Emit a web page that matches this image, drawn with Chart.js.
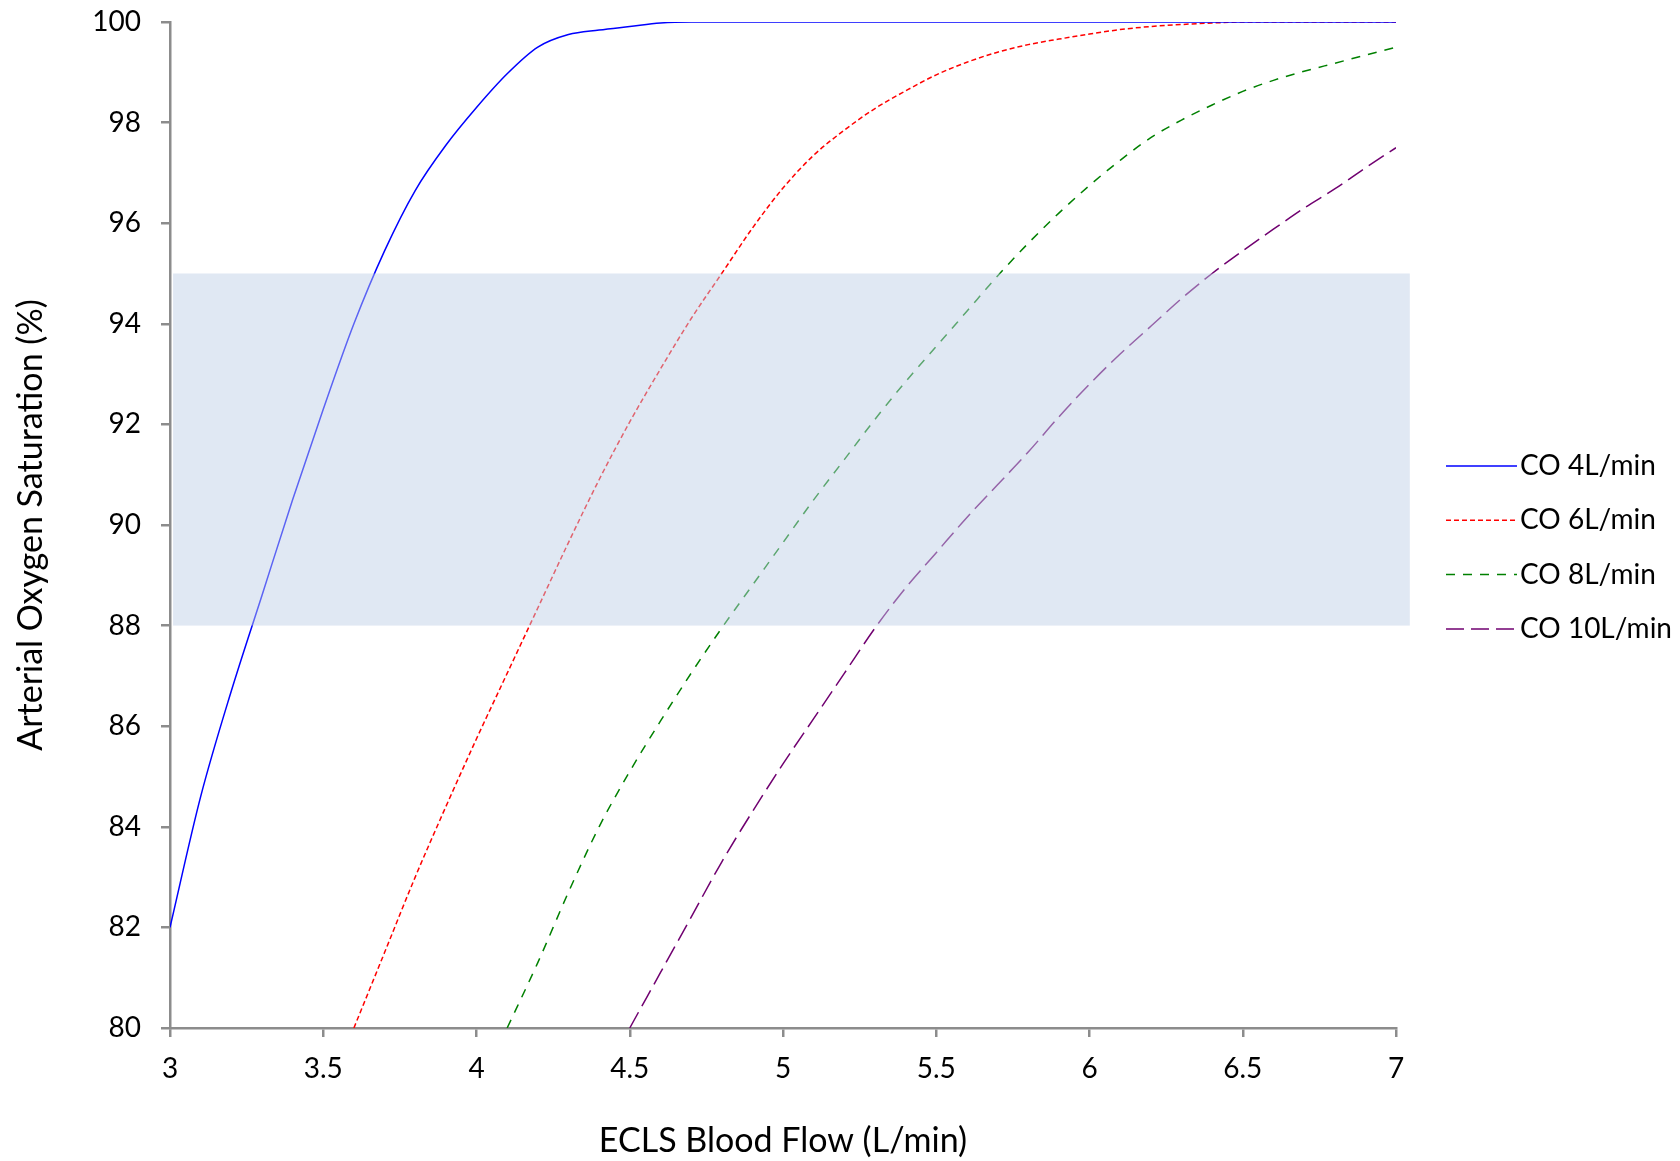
<!DOCTYPE html>
<html>
<head>
<meta charset="utf-8">
<script src="https://cdn.jsdelivr.net/npm/chart.js@4.4.0/dist/chart.umd.min.js"></script>
<style>
  html, body { margin: 0; padding: 0; background: #fff; }
</style>
</head>
<body>
<canvas id="satChart" width="1680" height="1161"></canvas>
<script>
// ECLS blood flow (L/min), sampled every 0.1
const flow = [
  3.0, 3.1, 3.2, 3.3, 3.4, 3.5, 3.6, 3.7, 3.8, 3.9,
  4.0, 4.1, 4.2, 4.3, 4.4, 4.5, 4.6, 4.7, 4.8, 4.9,
  5.0, 5.1, 5.2, 5.3, 5.4, 5.5, 5.6, 5.7, 5.8, 5.9,
  6.0, 6.1, 6.2, 6.3, 6.4, 6.5, 6.6, 6.7, 6.8, 6.9,
  7.0
];

// arterial saturation (%) for each cardiac output, null = below 80
const co4 = [
  82.0, 84.6, 86.7, 88.6, 90.5, 92.3, 94.0, 95.45, 96.65, 97.55,
  98.3, 98.97, 99.5, 99.75, 99.84, 99.91, 99.98, 100, 100, 100,
  100, 100, 100, 100, 100, 100, 100, 100, 100, 100,
  100, 100, 100, 100, 100, 100, 100, 100, 100, 100,
  100
];
const co6 = [
  null, null, null, null, null, null, 80.0, 81.5, 83.0, 84.4,
  85.75, 87.05, 88.35, 89.65, 90.9, 92.05, 93.1, 94.1, 95.0, 95.9,
  96.7, 97.35, 97.85, 98.28, 98.63, 98.95, 99.2, 99.4, 99.55, 99.66,
  99.76, 99.85, 99.91, 99.95, 99.98, 100, 100, 100, 100, 100,
  100
];
const co8 = [
  null, null, null, null, null, null, null, null, null, null,
  null, 80.0, 81.3, 82.7, 84.0, 85.1, 86.1, 87.05, 87.95, 88.8,
  89.65, 90.5, 91.3, 92.1, 92.85, 93.55, 94.25, 94.95, 95.6, 96.2,
  96.75, 97.25, 97.7, 98.05, 98.35, 98.62, 98.84, 99.02, 99.18, 99.34,
  99.5
];
const co10 = [
  null, null, null, null, null, null, null, null, null, null,
  null, null, null, null, null, 80.0, 81.1, 82.2, 83.3, 84.3,
  85.25, 86.15, 87.05, 87.95, 88.75, 89.45, 90.15, 90.8, 91.45, 92.15,
  92.8, 93.4, 93.95, 94.5, 95.0, 95.45, 95.88, 96.3, 96.68, 97.1,
  97.5
];

const seriesLabels = ["CO 4L/min", "CO 6L/min", "CO 8L/min", "CO 10L/min"];

// target saturation band
const bandFlow = [3.01, 7.045];
const bandSat = [88, 95];

const FONT = 'Lato, "Open Sans", sans-serif';
const AXIS_GREY = "#8c8c8c";

function toPoints(values) {
  return flow.map((f, i) => ({ x: f, y: values[i] }));
}

const targetBand = {
  id: "targetBand",
  afterDatasetsDraw(chart) {
    const { ctx, scales } = chart;
    const left = scales.x.getPixelForValue(bandFlow[0]);
    const right = scales.x.getPixelForValue(bandFlow[1]);
    const top = scales.y.getPixelForValue(bandSat[1]);
    const bottom = scales.y.getPixelForValue(bandSat[0]);
    ctx.save();
    ctx.fillStyle = "rgba(190, 206, 230, 0.48)";
    ctx.fillRect(left, top, right - left, bottom - top);
    ctx.restore();
  },
};

const lineLegend = {
  id: "lineLegend",
  afterDraw(chart) {
    const { ctx, chartArea } = chart;
    const x0 = chartArea.right + 50;
    let y = chartArea.top + 444;
    ctx.save();
    ctx.font = "28px " + FONT;
    ctx.textBaseline = "middle";
    chart.data.datasets.forEach((ds) => {
      ctx.strokeStyle = ds.borderColor;
      ctx.lineWidth = ds.borderWidth;
      ctx.setLineDash(ds.borderDash || []);
      ctx.beginPath();
      ctx.moveTo(x0, y);
      ctx.lineTo(x0 + 71, y);
      ctx.stroke();
      ctx.setLineDash([]);
      ctx.fillStyle = "#000";
      ctx.fillText(ds.label, x0 + 74, y);
      y += 54.3;
    });
    ctx.restore();
  },
};

const ctx = document.getElementById("satChart").getContext("2d");
new Chart(ctx, {
  type: "line",
  data: {
    datasets: [
      { label: seriesLabels[0], data: toPoints(co4), borderColor: "#0000ff", borderWidth: 1.5 },
      { label: seriesLabels[1], data: toPoints(co6), borderColor: "#ff0000", borderWidth: 1.5, borderDash: [5, 3] },
      { label: seriesLabels[2], data: toPoints(co8), borderColor: "#008000", borderWidth: 1.5, borderDash: [9, 8] },
      { label: seriesLabels[3], data: toPoints(co10), borderColor: "#700070", borderWidth: 1.5, borderDash: [18, 7] },
    ],
  },
  options: {
    responsive: false,
    animation: false,
    layout: { padding: { top: 22, right: 284, left: 0, bottom: 0 } },
    elements: {
      point: { radius: 0 },
      line: { cubicInterpolationMode: "monotone", fill: false },
    },
    plugins: {
      legend: { display: false },
      tooltip: { enabled: false },
    },
    scales: {
      x: {
        type: "linear",
        min: 3,
        max: 7,
        afterFit: (scale) => { scale.height = 133; },
        ticks: {
          stepSize: 0.5,
          color: "#000",
          padding: 15,
          font: { family: FONT, size: 28 },
          callback: (value) => String(value),
        },
        grid: { drawOnChartArea: false, tickLength: 9, color: AXIS_GREY, lineWidth: 2.5 },
        border: { display: true, color: AXIS_GREY, width: 2.5 },
        title: {
          display: true,
          text: "ECLS Blood Flow (L/min)",
          color: "#000",
          font: { family: FONT, size: 34 },
          padding: { top: 6, bottom: 0 },
        },
      },
      y: {
        min: 80,
        max: 100,
        afterFit: (scale) => {
          scale.width = 170;
          scale.paddingTop = 0;
          scale.paddingBottom = 0;
        },
        ticks: { stepSize: 2, color: "#000", padding: 20, font: { family: FONT, size: 28 } },
        grid: { drawOnChartArea: false, tickLength: 9, color: AXIS_GREY, lineWidth: 2.5 },
        border: { display: true, color: AXIS_GREY, width: 2.5 },
        title: {
          display: true,
          text: "Arterial Oxygen Saturation (%)",
          color: "#000",
          font: { family: FONT, size: 34 },
          padding: { top: 11, bottom: 0 },
        },
      },
    },
  },
  plugins: [targetBand, lineLegend],
});
</script>
</body>
</html>
